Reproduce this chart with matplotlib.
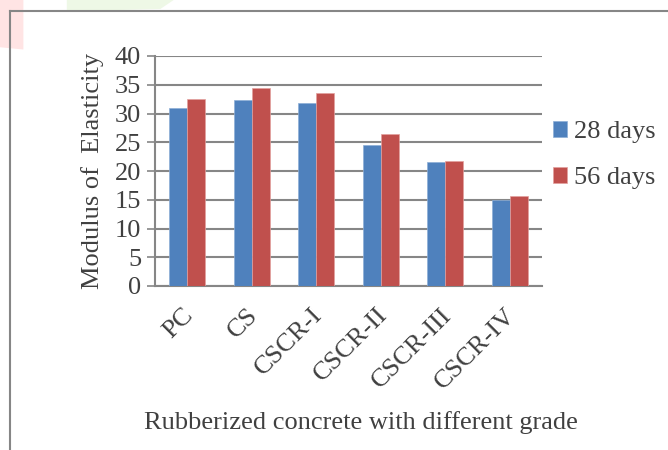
import matplotlib
matplotlib.use("Agg")
import matplotlib.pyplot as plt
import matplotlib.transforms as mtransforms
from matplotlib.lines import Line2D
from matplotlib.patches import Polygon
import numpy as np

plt.rcParams['font.family'] = ['Liberation Serif', 'DejaVu Serif']

grades = ["PC", "CS", "CSCR-I", "CSCR-II", "CSCR-III", "CSCR-IV"]
days_28 = [30.9, 32.4, 31.8, 24.5, 21.5, 15.0]
days_56 = [32.5, 34.5, 33.5, 26.4, 21.8, 15.6]
y_ticks = [0, 5, 10, 15, 20, 25, 30, 35, 40]

blue = "#4F81BD"
red = "#C0504D"
grid_c = "#868686"
text_c = "#404040"
fs = 19

fig = plt.figure(figsize=(6.68, 4.5), dpi=100)

# faint background marks at the top of the page
fig.patches.append(Polygon([[0, 1], [0.035, 1], [0.035, 0.89], [0, 0.895]],
                           closed=True, transform=fig.transFigure,
                           facecolor="#FFE4E4", edgecolor="none", zorder=0))
fig.patches.append(Polygon([[0.10, 1], [0.26, 1], [0.24, 0.98], [0.10, 0.975]],
                           closed=True, transform=fig.transFigure,
                           facecolor="#EEF8E6", edgecolor="none", zorder=0))

# chart frame
fig.add_artist(Line2D([10 / 668, 10 / 668], [0, 1 - 11 / 450],
                      transform=fig.transFigure, color=grid_c, lw=1.5))
fig.add_artist(Line2D([10 / 668, 1], [1 - 11 / 450, 1 - 11 / 450],
                      transform=fig.transFigure, color=grid_c, lw=1.5))

ax = fig.add_axes([155 / 668, 1 - 286 / 450, 387 / 668, 230 / 450])

x = np.arange(len(grades))
w = 0.28
ax.bar(x - w / 2, days_28, w, color=blue, edgecolor="#8DAED6", linewidth=0.5,
       label="28 days", zorder=3)
ax.bar(x + w / 2, days_56, w, color=red, edgecolor="#E3A09E", linewidth=0.5,
       label="56 days", zorder=3)

ax.set_xlim(-0.5, len(grades) - 0.5)
ax.set_ylim(0, 40)
ax.set_yticks(y_ticks)
ax.yaxis.grid(True, color=grid_c, lw=1.5, zorder=0)
ax.set_axisbelow(True)

for s in ["top", "right"]:
    ax.spines[s].set_visible(False)
for s in ["left", "bottom"]:
    ax.spines[s].set_color(grid_c)
    ax.spines[s].set_linewidth(1.5)

ax.tick_params(axis="y", length=6, width=1.2, color=grid_c,
               labelsize=fs, labelcolor=text_c, pad=4)
ax.tick_params(axis="x", length=0, labelsize=fs, labelcolor=text_c, pad=13)
ax.set_xticks(x)
ax.set_xticklabels(grades, rotation=45, ha="right", rotation_mode="anchor")
# nudge the slanted category labels a little to the left
shift = mtransforms.ScaledTranslation(-5 / 100, 0, fig.dpi_scale_trans)
for lbl in ax.get_xticklabels():
    lbl.set_transform(lbl.get_transform() + shift)

ax.set_ylabel("Modulus of  Elasticity", fontsize=fs, color=text_c, labelpad=8)
fig.text(361 / 668, 1 - 423 / 450, "Rubberized concrete with different grade",
         ha="center", va="center", fontsize=fs, color=text_c)

leg = ax.legend(loc="center left", bbox_to_anchor=(1.0, 0.57), frameon=False,
                fontsize=fs, handlelength=0.55, handleheight=0.55,
                handletextpad=0.25, labelspacing=0.9, borderaxespad=0.0)
for t in leg.get_texts():
    t.set_color(text_c)

fig.savefig("out.png", dpi=100)
